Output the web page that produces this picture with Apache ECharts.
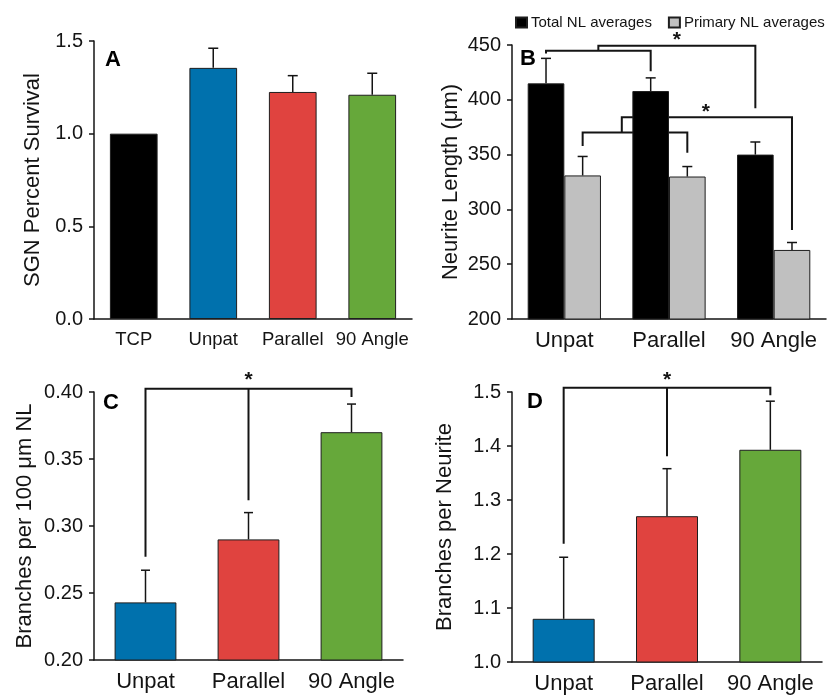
<!DOCTYPE html>
<html>
<head>
<meta charset="utf-8">
<script src="https://cdn.jsdelivr.net/npm/echarts@6/dist/echarts.min.js"></script>
<style>html,body{margin:0;padding:0;background:#fff}#c{width:827px;height:695px}</style>
</head>
<body>
<div id="c"></div>
<script>
// ---------- data ----------
const catsA = ['TCP', 'Unpat', 'Parallel', '90 Angle'];
const survival = [1.0, 1.355, 1.225, 1.21];
const survivalErr = [0, 0.106, 0.088, 0.116];

const catsB = ['Unpat', 'Parallel', '90 Angle'];
const totalNL = [415, 408, 350];
const totalNLErr = [22.8, 12, 11.5];
const primaryNL = [331, 330, 263];
const primaryNLErr = [17.3, 9.1, 6.8];

const catsC = ['Unpat', 'Parallel', '90 Angle'];
const branchesPer100 = [0.243, 0.290, 0.370];
const branchesPer100Err = [0.024, 0.020, 0.021];

const catsD = ['Unpat', 'Parallel', '90 Angle'];
const branchesPerNeurite = [1.080, 1.270, 1.393];
const branchesPerNeuriteErr = [0.114, 0.088, 0.090];

// significance brackets: points as [category position, value]
const bracketsB = [
  [[-0.175, 442.3], [-0.175, 444.8], [0.825, 444.8], [0.825, 426.1]],
  [[0.325, 444.8], [0.325, 449.4], [1.825, 449.4], [1.825, 392.2]],
  [[0.175, 357.8], [0.175, 370.1], [1.175, 370.1], [1.175, 351.7]],
  [[0.549, 370.1], [0.549, 384], [2.175, 384], [2.175, 281.3]]
];
const starsB = [[1.075, 458.9], [1.353, 393.4]];
const bracketsC = [
  [[0, 0.277], [0, 0.4025], [2, 0.4025], [2, 0.3962]],
  [[1, 0.4025], [1, 0.3192]]
];
const starsC = [[1, 0.4124]];
const bracketsD = [
  [[0, 1.219], [0, 1.508], [2, 1.508], [2, 1.494]],
  [[1, 1.508], [1, 1.381]]
];
const starsD = [[1, 1.531]];

// ---------- style ----------
const FONT = '"Liberation Sans", Arial, sans-serif';
const INK = '#141414';
const BLUE = '#0071AD', RED = '#E0433F', GREEN = '#66A83A', BLACK = '#000000', GRAY = '#C0C0C0';

function xAxisCfg(gi, cats, fs) {
  return {
    type: 'category', gridIndex: gi, data: cats,
    axisLine: { lineStyle: { color: INK, width: 1.5 } },
    axisTick: { alignWithLabel: true, length: 5, lineStyle: { color: INK, width: 1.5 } },
    axisLabel: { color: INK, fontSize: fs, fontFamily: FONT, margin: 11, interval: 0, hideOverlap: false }
  };
}
function yAxisCfg(gi, min, max, interval, dec, name, gap) {
  return {
    type: 'value', gridIndex: gi, min, max, interval,
    name, nameLocation: 'middle', nameGap: gap,
    nameTextStyle: { color: INK, fontSize: 22, fontFamily: FONT },
    splitLine: { show: false },
    axisLine: { show: true, lineStyle: { color: INK, width: 1.5 } },
    axisTick: { show: true, length: 5, lineStyle: { color: INK, width: 1.5 } },
    axisLabel: { color: INK, fontSize: 20, fontFamily: FONT, margin: 11,
      formatter: v => v.toFixed(dec) }
  };
}
function xAt(api, pos, v) {
  const p0 = api.coord([0, v]);
  const band = api.size([1, 0])[0];
  return [p0[0] + pos * band, p0[1]];
}
function errSeries(gi, means, errs, offset, cap) {
  return {
    type: 'custom', xAxisIndex: gi, yAxisIndex: gi, z: 5,
    data: means.map((m, i) => [i, m, errs[i]]),
    encode: { x: 0, y: 1 },
    renderItem: (params, api) => {
      const i = api.value(0), m = api.value(1), e = api.value(2);
      if (!e) return null;
      const band = api.size([1, 0])[0];
      const top = api.coord([i, m + e]);
      const bot = api.coord([i, m]);
      const x = top[0] + offset * band;
      const st = { stroke: INK, lineWidth: 1.5 };
      return { type: 'group', children: [
        { type: 'line', shape: { x1: x, y1: bot[1], x2: x, y2: top[1] }, style: st },
        { type: 'line', shape: { x1: x - cap / 2, y1: top[1], x2: x + cap / 2, y2: top[1] }, style: st }
      ] };
    }
  };
}
function bracketSeries(gi, brackets, stars) {
  const data = brackets.map((b, i) => [0, b[0][1], i]);
  return {
    type: 'custom', xAxisIndex: gi, yAxisIndex: gi, z: 1, clip: false,
    data, encode: { x: 0, y: 1 }, silent: true,
    renderItem: (params, api) => {
      const b = brackets[params.dataIndex];
      const pts = b.map(p => xAt(api, p[0], p[1]));
      const children = [{ type: 'polyline', shape: { points: pts },
        style: { stroke: INK, lineWidth: 2, fill: null } }];
      if (params.dataIndex === 0) {
        stars.forEach(s => {
          const p = xAt(api, s[0], s[1]);
          children.push({ type: 'text', x: p[0], y: p[1] + 5,
            style: { text: '*', font: 'bold 21px ' + FONT, fill: INK, align: 'center', verticalAlign: 'middle' } });
        });
      }
      return { type: 'group', children };
    }
  };
}
const barStyle = { borderColor: '#1e1e1e', borderWidth: 1 };

const option = {
  animation: false,
  backgroundColor: '#fff',
  textStyle: { fontFamily: FONT },
  legend: {
    left: 515, top: 15, padding: 0, itemGap: 16, itemWidth: 11, itemHeight: 10,
    icon: 'rect', selectedMode: false,
    data: ['Total NL averages', 'Primary NL averages'],
    textStyle: { color: INK, fontSize: 15, fontFamily: FONT, padding: [0, 0, 0, -1] }
  },
  grid: [
    { left: 94, right: 415, top: 41, bottom: 376 },
    { left: 512, right: 1, top: 45, bottom: 376 },
    { left: 94, right: 424, top: 392, bottom: 35 },
    { left: 512, right: 5, top: 392, bottom: 33 }
  ],
  xAxis: [
    xAxisCfg(0, catsA, 18.5),
    xAxisCfg(1, catsB, 22),
    xAxisCfg(2, catsC, 22),
    xAxisCfg(3, catsD, 22)
  ],
  yAxis: [
    yAxisCfg(0, 0, 1.5, 0.5, 1, 'SGN Percent Survival', 50),
    yAxisCfg(1, 200, 450, 50, 0, 'Neurite Length (μm)', 50),
    yAxisCfg(2, 0.20, 0.40, 0.05, 2, 'Branches per 100 μm NL', 58),
    yAxisCfg(3, 1.0, 1.5, 0.1, 1, 'Branches per Neurite', 56)
  ],
  graphic: [
    { type: 'text', x: 105, y: 60, style: { text: 'A', font: 'bold 22px ' + FONT, fill: BLACK, verticalAlign: 'middle' } },
    { type: 'text', x: 520, y: 59, style: { text: 'B', font: 'bold 22px ' + FONT, fill: BLACK, verticalAlign: 'middle' } },
    { type: 'text', x: 103, y: 403, style: { text: 'C', font: 'bold 22px ' + FONT, fill: BLACK, verticalAlign: 'middle' } },
    { type: 'text', x: 527, y: 402, style: { text: 'D', font: 'bold 22px ' + FONT, fill: BLACK, verticalAlign: 'middle' } }
  ],
  series: [
    { name: 'SGN Percent Survival', type: 'bar', xAxisIndex: 0, yAxisIndex: 0, barCategoryGap: '40%', z: 2,
      data: survival.map((v, i) => ({ value: v, itemStyle: { color: [BLACK, BLUE, RED, GREEN][i] } })),
      itemStyle: barStyle },
    errSeries(0, survival, survivalErr, 0, 10),

    bracketSeries(1, bracketsB, starsB),
    { name: 'Total NL averages', type: 'bar', xAxisIndex: 1, yAxisIndex: 1, barGap: 0, barCategoryGap: '30%', z: 2,
      data: totalNL, itemStyle: { color: BLACK, borderColor: '#1e1e1e', borderWidth: 1 } },
    { name: 'Primary NL averages', type: 'bar', xAxisIndex: 1, yAxisIndex: 1, barGap: 0, barCategoryGap: '30%', z: 2,
      data: primaryNL, itemStyle: { color: GRAY, borderColor: '#1e1e1e', borderWidth: 1 } },
    errSeries(1, totalNL, totalNLErr, -0.175, 10),
    errSeries(1, primaryNL, primaryNLErr, 0.175, 10),

    bracketSeries(2, bracketsC, starsC),
    { name: 'Branches per 100 μm NL', type: 'bar', xAxisIndex: 2, yAxisIndex: 2, barCategoryGap: '40%', z: 2,
      data: branchesPer100.map((v, i) => ({ value: v, itemStyle: { color: [BLUE, RED, GREEN][i] } })),
      itemStyle: barStyle },
    errSeries(2, branchesPer100, branchesPer100Err, 0, 9),

    bracketSeries(3, bracketsD, starsD),
    { name: 'Branches per Neurite', type: 'bar', xAxisIndex: 3, yAxisIndex: 3, barCategoryGap: '40%', z: 2,
      data: branchesPerNeurite.map((v, i) => ({ value: v, itemStyle: { color: [BLUE, RED, GREEN][i] } })),
      itemStyle: barStyle },
    errSeries(3, branchesPerNeurite, branchesPerNeuriteErr, 0, 9)
  ]
};
const chart = echarts.init(document.getElementById('c'), null, { renderer: 'canvas' });
chart.setOption(option);
</script>
</body>
</html>
